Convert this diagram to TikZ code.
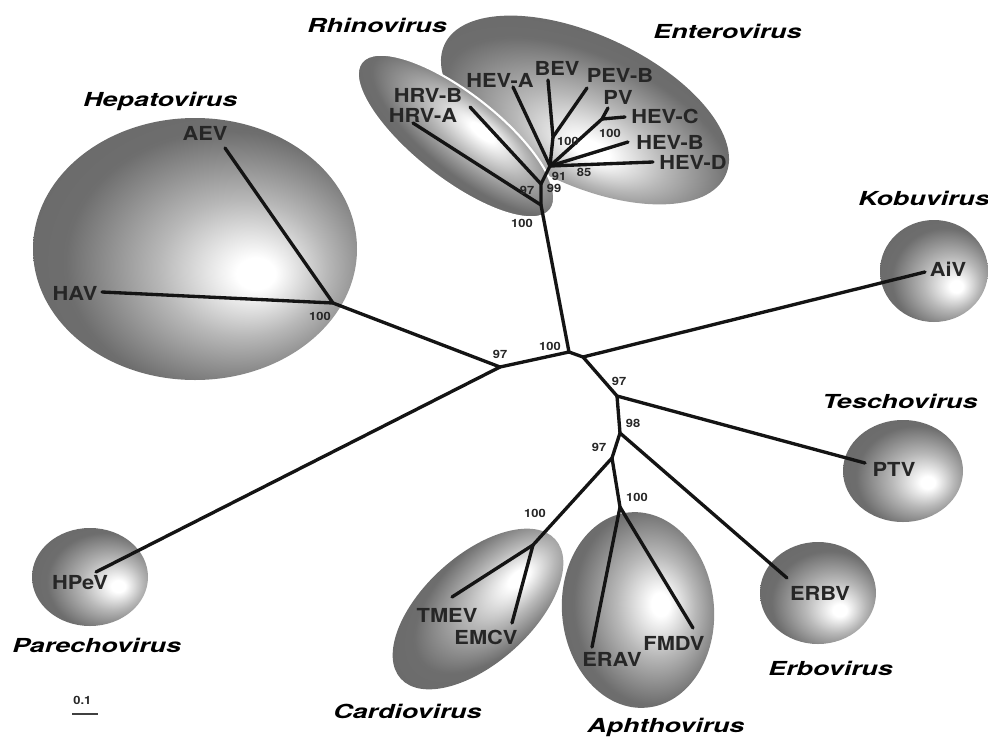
\documentclass[tikz,border=0pt]{standalone}
\usepackage{fontspec}
\usepackage{tikz}
\usetikzlibrary{positioning,calc}
\newfontfamily\leaffont[FakeStretch=1.13]{TeX Gyre Heros}
\newfontfamily\grpfont[FakeStretch=1.39]{TeX Gyre Heros}
\definecolor{leafgray}{RGB}{38,38,38}

% one radial shading per group, highlight offset given in bp
\newcommand{\blobshading}[3]{%
  \pgfdeclareradialshading{#1}{\pgfpoint{#2bp}{#3bp}}{%
    color(0bp)=(white); color(3bp)=(white); color(13bp)=(black!28);
    color(25bp)=(black!57); color(50bp)=(black!62)}}
\blobshading{hepS}{10}{-5}
\blobshading{kobS}{11}{-8}
\blobshading{tesS}{11}{-6}
\blobshading{parS}{13}{-5}
\blobshading{erbS}{10}{-9}
\blobshading{carS}{13}{-2}
\blobshading{aphS}{8}{1}
\blobshading{entS}{4}{-12}
\blobshading{rhiS}{4}{12}

\begin{document}
\begin{tikzpicture}[x=0.02cm, y=-0.02cm,
    branch/.style={line width=1.9pt, black!92, line cap=round, line join=round},
    leaf/.style={font=\leaffont\bfseries\fontsize{11}{12}\selectfont, text=leafgray, inner sep=0pt},
    boot/.style={font=\leaffont\bfseries\fontsize{6.5}{7}\selectfont, text=leafgray, inner sep=0pt},
    grp/.style={font=\grpfont\bfseries\itshape\fontsize{11}{12}\selectfont, inner sep=0pt, anchor=west}
]
    \useasboundingbox (0,0) rectangle (988,741);

    % Groups (shaded blobs)
    \begin{scope}[transform canvas={shift={(195,249)}}]
        \shade[shading=hepS] (0,0) ellipse (162 and 131);
    \end{scope}
    \begin{scope}[transform canvas={shift={(934,271)}}]
        \shade[shading=kobS] (0,0) ellipse (54 and 51);
    \end{scope}
    \begin{scope}[transform canvas={shift={(903,471)}}]
        \shade[shading=tesS] (0,0) ellipse (60 and 51);
    \end{scope}
    \begin{scope}[transform canvas={shift={(90,577)}}]
        \shade[shading=parS] (0,0) ellipse (58 and 49);
    \end{scope}
    \begin{scope}[transform canvas={shift={(818,593)}}]
        \shade[shading=erbS] (0,0) ellipse (58 and 51);
    \end{scope}
    \begin{scope}[transform canvas={shift={(478,609)}, rotate=42}]
        \shade[shading=carS] (0,0) ellipse (104 and 54);
    \end{scope}
    \begin{scope}[transform canvas={shift={(638,610)}, rotate=5}]
        \shade[shading=aphS] (0,0) ellipse (76 and 98);
    \end{scope}
    \begin{scope}[transform canvas={shift={(585,110)}, rotate=-25}]
        \shade[shading=entS] (0,0) ellipse (155 and 75);
    \end{scope}
    \begin{scope}[transform canvas={shift={(456,136)}, rotate=-38}]
        \shade[shading=rhiS, draw=white, line width=1.2pt] (0,0) ellipse (120 and 43);
    \end{scope}

    % Inner nodes of the tree
    \coordinate (r1) at (569,352);
    \coordinate (r2) at (583,357);
    \coordinate (n97) at (500,367);
    \coordinate (hep) at (333,303);
    \coordinate (rA) at (541,205);
    \coordinate (rB) at (541,184);
    \coordinate (ent) at (550,166);
    \coordinate (bp) at (553,137);
    \coordinate (pc) at (602,119);
    \coordinate (t97) at (617,396);
    \coordinate (t98) at (620,433);
    \coordinate (a97) at (612,458);
    \coordinate (car) at (533,545);
    \coordinate (aph) at (620,507);

    % Leaf tips
    \coordinate (tAEV) at (225,148);
    \coordinate (tHAV) at (102,292);
    \coordinate (tHPeV) at (96,572);
    \coordinate (tHRVA) at (413,123);
    \coordinate (tHRVB) at (470,107);
    \coordinate (tHEVA) at (513,87);
    \coordinate (tBEV) at (548,80);
    \coordinate (tPEVB) at (587,88);
    \coordinate (tPV) at (608,108);
    \coordinate (tHEVC) at (625,117);
    \coordinate (tHEVB) at (628,142);
    \coordinate (tHEVD) at (653,162);
    \coordinate (tAiV) at (925,272);
    \coordinate (tPTV) at (865,463);
    \coordinate (tERBV) at (787,578);
    \coordinate (tTMEV) at (452,597);
    \coordinate (tEMCV) at (512,623);
    \coordinate (tERAV) at (592,647);
    \coordinate (tFMDV) at (693,628);

    % Branches
    \draw[branch] (tAEV) -- (hep) -- (tHAV);
    \draw[branch] (hep) -- (n97) -- (tHPeV);
    \draw[branch] (n97) -- (r1) -- (rA) -- (tHRVA);
    \draw[branch] (rA) -- (rB) -- (tHRVB);
    \draw[branch] (rB) -- (ent) -- (tHEVA);
    \draw[branch] (ent) -- (bp) -- (tBEV);
    \draw[branch] (bp) -- (tPEVB);
    \draw[branch] (ent) -- (pc) -- (tPV);
    \draw[branch] (pc) -- (tHEVC);
    \draw[branch] (ent) -- (tHEVB);
    \draw[branch] (ent) -- (tHEVD);
    \draw[branch] (r1) -- (r2) -- (tAiV);
    \draw[branch] (r2) -- (t97) -- (tPTV);
    \draw[branch] (t97) -- (t98) -- (tERBV);
    \draw[branch] (t98) -- (a97) -- (car) -- (tTMEV);
    \draw[branch] (car) -- (tEMCV);
    \draw[branch] (a97) -- (aph) -- (tERAV);
    \draw[branch] (aph) -- (tFMDV);

    % Leaf labels
    \node[leaf] (AEV) at (205,133) {AEV};
    \node[leaf] (HAV) at (75,293) {HAV};
    \node[leaf] (HPeV) at (80,583) {HPeV};
    \node[leaf] (HRVB) at (428,95) {HRV-B};
    \node[leaf] (HRVA) at (423,115) {HRV-A};
    \node[leaf] (HEVA) at (500,80) {HEV-A};
    \node[leaf] (BEV) at (557,68) {BEV};
    \node[leaf] (PEVB) at (620,75) {PEV-B};
    \node[leaf] (PV) at (618,97) {PV};
    \node[leaf] (HEVC) at (665,116) {HEV-C};
    \node[leaf] (HEVB) at (670,142) {HEV-B};
    \node[leaf] (HEVD) at (693,162) {HEV-D};
    \node[leaf] (AiV) at (948,269) {AiV};
    \node[leaf] (PTV) at (894,469) {PTV};
    \node[leaf] (ERBV) at (820,593) {ERBV};
    \node[leaf] (TMEV) at (447,615) {TMEV};
    \node[leaf] (EMCV) at (486,637) {EMCV};
    \node[leaf] (ERAV) at (612,659) {ERAV};
    \node[leaf] (FMDV) at (674,643) {FMDV};

    % Bootstrap values
    \node[boot] (bHep) at (320,316) {100};
    \node[boot] (bN97) at (500,354) {97};
    \node[boot] (bR1) at (550,346) {100};
    \node[boot] (bRA) at (522,223) {100};
    \node[boot] (bRB) at (527,190) {97};
    \node[boot] (bEnt) at (554,188) {99};
    \node[boot] (bHub) at (559,176) {91};
    \node[boot] (bBP) at (568,141) {100};
    \node[boot] (bPC) at (610,133) {100};
    \node[boot] (bD) at (584,172) {85};
    \node[boot] (bT97) at (619,381) {97};
    \node[boot] (bT98) at (633,423) {98};
    \node[boot] (bA97) at (599,447) {97};
    \node[boot] (bCar) at (535,513) {100};
    \node[boot] (bAph) at (637,497) {100};

    % Genus names
    \node[grp] (Rhino) at (307,25) {Rhinovirus};
    \node[grp] (Entero) at (653,31) {Enterovirus};
    \node[grp] (Hepato) at (83,101) {Hepatovirus};
    \node[grp] (Kobu) at (858,198) {Kobuvirus};
    \node[grp] (Tescho) at (822,401) {Teschovirus};
    \node[grp] (Parecho) at (12,645) {Parechovirus};
    \node[grp] (Erbo) at (768,668) {Erbovirus};
    \node[grp] (Cardio) at (333,711) {Cardiovirus};
    \node[grp] (Aphtho) at (587,727) {Aphthovirus};

    % Scale bar
    \coordinate (sbL) at (72,714);
    \coordinate (sbR) at (98,714);
    \draw[line width=1.1pt, black!75] (sbL) -- (sbR);
    \node[boot, above=5pt of $(sbL)!0.4!(sbR)$] (sbT) {0.1};
\end{tikzpicture}
\end{document}
